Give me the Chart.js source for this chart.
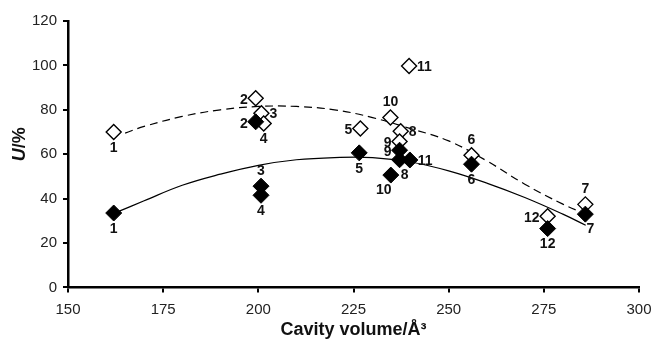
<!DOCTYPE html>
<html>
<head>
<meta charset="utf-8">
<script src="https://cdn.jsdelivr.net/npm/chart.js@4/dist/chart.umd.min.js"></script>
<style>
    body { margin: 0; background: #ffffff; }
    #wrap { width: 655px; height: 340px; }
</style>
</head>
<body>
<div id="wrap"><canvas id="chart" width="655" height="340"></canvas></div>
<script>
// Point labels (compound numbers)
const pointLabels = ['1', '2', '3', '4', '5', '6', '7', '8', '9', '10', '11', '12'];

// Open diamonds
const openX = [162, 199.3, 200.8, 201.4, 226.8, 256, 285.9, 237.4, 237.1, 234.7, 239.6, 276];
const openY = [70, 85.2, 78.4, 73.8, 71.6, 59.5, 37.4, 70.3, 65.7, 76.5, 99.7, 32];

// Filled diamonds
const filledX = [162, 199.3, 200.7, 200.7, 226.5, 256, 285.9, 237.1, 237.1, 234.8, 239.8, 276];
const filledY = [33.5, 74.6, 45.6, 41.5, 60.6, 55.5, 33, 57.5, 61.8, 50.6, 57.4, 26.5];

// Trend curves
const dashedX = [165, 170, 180, 190, 200, 210, 220, 230, 240, 250, 260, 270, 280, 286];
const dashedY = [69.5, 72.5, 77, 80, 81.5, 81.5, 80, 76.5, 71.5, 66, 57, 46.5, 37.5, 33];
const solidX = [163, 170, 180, 190, 200, 210, 220, 230, 240, 250, 260, 270, 280, 286];
const solidY = [34, 39, 46, 51, 55, 57.5, 58.5, 58.5, 56.5, 52.5, 47, 40.5, 33, 28];

// Axis ticks
const xTicks = [150, 175, 200, 225, 250, 275, 300];
const yTicks = [0, 20, 40, 60, 80, 100, 120];

// Where each number sits next to its marker
const openLabelPos = ['below', 'left', 'right', 'below', 'left', 'above', 'above', 'right', 'left', 'above', 'right', 'left'];
const filledLabelPos = ['below', 'left', 'above', 'below', 'below', 'below', 'belowRight', 'belowRight', 'left', 'belowLeft', 'right', 'below'];

const FONT = "'Liberation Sans', Arial, sans-serif";

function toPoints(xs, ys) {
    return xs.map((x, i) => ({ x: x, y: ys[i] }));
}

// Draws the numbers beside the diamonds
const labelPlugin = {
    id: 'pointNumbers',
    afterDatasetsDraw(chart) {
        const ctx = chart.ctx;
        ctx.save();
        ctx.font = 'bold 14px ' + FONT;
        ctx.fillStyle = '#111';
        ctx.textBaseline = 'middle';
        chart.data.datasets.forEach((ds, di) => {
            if (!ds.labelPos) return;
            const meta = chart.getDatasetMeta(di);
            meta.data.forEach((pt, i) => {
                const pos = ds.labelPos[i];
                let x = pt.x, y = pt.y;
                ctx.textAlign = 'center';
                if (pos === 'below') y += 16;
                else if (pos === 'above') y -= 15;
                else if (pos === 'left') { x -= 8; ctx.textAlign = 'right'; y += 2; }
                else if (pos === 'right') { x += 8; ctx.textAlign = 'left'; y += 1; }
                else if (pos === 'belowRight') { x += 5; y += 15; }
                else if (pos === 'belowLeft') { x -= 7; y += 15; }
                ctx.fillText(pointLabels[i], x, y);
            });
        });
        ctx.restore();
    }
};

// Y title with an italic U
const yTitlePlugin = {
    id: 'yTitle',
    afterDraw(chart) {
        const ctx = chart.ctx;
        const area = chart.chartArea;
        ctx.save();
        ctx.translate(20, (area.top + area.bottom) / 2 - 10);
        ctx.rotate(-Math.PI / 2);
        ctx.textBaseline = 'middle';
        ctx.fillStyle = '#111';
        const partA = 'U';
        const partB = '/%';
        ctx.font = 'italic bold 18px ' + FONT;
        const wA = ctx.measureText(partA).width;
        ctx.font = 'bold 18px ' + FONT;
        const wB = ctx.measureText(partB).width;
        const start = -(wA + wB) / 2;
        ctx.textAlign = 'left';
        ctx.font = 'italic bold 18px ' + FONT;
        ctx.fillText(partA, start, 0);
        ctx.font = 'bold 18px ' + FONT;
        ctx.fillText(partB, start + wA, 0);
        ctx.restore();
    }
};

new Chart(document.getElementById('chart'), {
    type: 'scatter',
    data: {
        datasets: [
            {
                label: 'filled',
                data: toPoints(filledX, filledY),
                pointStyle: 'rectRot',
                pointRadius: 8,
                backgroundColor: '#000',
                borderColor: '#000',
                borderWidth: 1,
                labelPos: filledLabelPos,
                order: 0
            },
            {
                label: 'open',
                data: toPoints(openX, openY),
                pointStyle: 'rectRot',
                pointRadius: 7.5,
                backgroundColor: '#fff',
                borderColor: '#000',
                borderWidth: 1.4,
                labelPos: openLabelPos,
                order: 1
            },
            {
                label: 'dashed fit',
                type: 'line',
                data: toPoints(dashedX, dashedY),
                borderColor: '#000',
                borderWidth: 1.2,
                borderDash: [8, 5],
                pointRadius: 0,
                tension: 0.4,
                fill: false,
                order: 2
            },
            {
                label: 'solid fit',
                type: 'line',
                data: toPoints(solidX, solidY),
                borderColor: '#000',
                borderWidth: 1.2,
                pointRadius: 0,
                tension: 0.4,
                fill: false,
                order: 2
            }
        ]
    },
    options: {
        responsive: false,
        animation: false,
        layout: {
            padding: { left: 26, right: 16, top: 21, bottom: -1 }
        },
        plugins: {
            legend: { display: false },
            tooltip: { enabled: false }
        },
        scales: {
            x: {
                type: 'linear',
                min: 150,
                max: 300,
                afterBuildTicks: axis => { axis.ticks = xTicks.map(v => ({ value: v })); },
                afterFit: axis => { axis.paddingRight = 0; },
                ticks: {
                    color: '#222',
                    font: { family: FONT, size: 15 },
                    padding: 8
                },
                grid: {
                    display: true,
                    drawOnChartArea: false,
                    tickLength: 5,
                    tickColor: '#000',
                    lineWidth: 2
                },
                border: { color: '#000', width: 2.5 },
                title: {
                    display: true,
                    text: 'Cavity volume/Å³',
                    color: '#111',
                    font: { family: FONT, size: 18, weight: 'bold' },
                    padding: { top: -7, bottom: 0 }
                }
            },
            y: {
                type: 'linear',
                min: 0,
                max: 120,
                afterBuildTicks: axis => { axis.ticks = yTicks.map(v => ({ value: v })); },
                ticks: {
                    color: '#222',
                    font: { family: FONT, size: 15 },
                    padding: 6
                },
                grid: {
                    display: true,
                    drawOnChartArea: false,
                    tickLength: 5,
                    tickColor: '#000',
                    lineWidth: 2
                },
                border: { color: '#000', width: 2.5 }
            }
        }
    },
    plugins: [labelPlugin, yTitlePlugin]
});
</script>
</body>
</html>
